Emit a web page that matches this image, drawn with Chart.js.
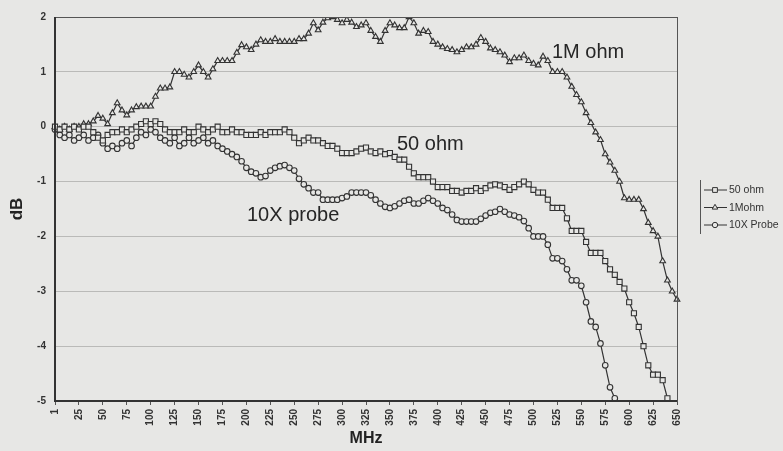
<!DOCTYPE html>
<html>
<head>
<meta charset="utf-8">
<script src="https://cdn.jsdelivr.net/npm/chart.js@4.4.1/dist/chart.umd.min.js"></script>
<style>
  html, body { margin: 0; padding: 0; background: #e7e7e5; }
  #wrap { width: 783px; height: 451px; }
</style>
</head>
<body>
<div id="wrap"><canvas id="chart" width="783" height="451"></canvas></div>
<script>
// frequency points (MHz)
const freqs = [1, 5, 10, 15, 20, 25, 30, 35, 40, 45, 50, 55, 60, 65, 70, 75, 80, 85, 90, 95,
  100, 105, 110, 115, 120, 125, 130, 135, 140, 145, 150, 155, 160, 165, 170, 175, 180, 185, 190, 195,
  200, 205, 210, 215, 220, 225, 230, 235, 240, 245, 250, 255, 260, 265, 270, 275, 280, 285, 290, 295,
  300, 305, 310, 315, 320, 325, 330, 335, 340, 345, 350, 355, 360, 365, 370, 375, 380, 385, 390, 395,
  400, 405, 410, 415, 420, 425, 430, 435, 440, 445, 450, 455, 460, 465, 470, 475, 480, 485, 490, 495,
  500, 505, 510, 515, 520, 525, 530, 535, 540, 545, 550, 555, 560, 565, 570, 575, 580, 585, 590, 595,
  600, 605, 610, 615, 620, 625, 630, 635, 640, 645, 650]

// dB
const ohm50 = [0, -0.05, 0, -0.05, 0, -0.05, 0, 0, -0.1, -0.2,
  -0.25, -0.15, -0.1, -0.1, -0.05, -0.1, -0.05, 0, 0.05, 0.1,
  0.05, 0.1, 0.05, -0.05, -0.1, -0.1, -0.1, -0.05, -0.1, -0.1,
  0, -0.05, -0.1, -0.05, 0, -0.1, -0.1, -0.05, -0.1, -0.1,
  -0.15, -0.15, -0.15, -0.1, -0.15, -0.1, -0.1, -0.1, -0.05, -0.1,
  -0.2, -0.3, -0.25, -0.2, -0.25, -0.25, -0.3, -0.35, -0.35, -0.4,
  -0.48, -0.48, -0.48, -0.45, -0.4, -0.38, -0.45, -0.48, -0.45, -0.5,
  -0.48, -0.55, -0.6, -0.6, -0.73, -0.85, -0.92, -0.92, -0.92, -1.0,
  -1.1, -1.1, -1.1, -1.17, -1.17, -1.2, -1.17, -1.17, -1.12, -1.17,
  -1.12, -1.07, -1.05, -1.07, -1.1, -1.15, -1.1, -1.05, -1.0, -1.05,
  -1.15, -1.2, -1.2, -1.33, -1.48, -1.48, -1.48, -1.67, -1.9, -1.9,
  -1.9, -2.1, -2.3, -2.3, -2.3, -2.45, -2.6, -2.7, -2.83, -2.95,
  -3.2, -3.4, -3.65, -4.0, -4.35, -4.52, -4.52, -4.62, -4.95, null, null]

const mohm1 = [0, -0.05, 0, -0.05, 0, 0, 0.05, 0.05, 0.1, 0.2,
  0.15, 0.05, 0.25, 0.43, 0.3, 0.21, 0.3, 0.36, 0.37, 0.37,
  0.37, 0.55, 0.7, 0.7, 0.72, 1.0, 1.0, 0.95, 0.9, 1.0,
  1.12, 1.0, 0.9, 1.05, 1.2, 1.2, 1.2, 1.2, 1.35, 1.49,
  1.45, 1.4, 1.5, 1.58, 1.55, 1.55, 1.6, 1.55, 1.55, 1.55,
  1.55, 1.6, 1.6, 1.7, 1.89, 1.76, 1.9, 1.98, 2.0, 1.95,
  1.89, 1.95, 1.9, 1.82, 1.85, 1.89, 1.75, 1.64, 1.55, 1.75,
  1.89, 1.85, 1.8, 1.8, 2.0, 1.89, 1.7, 1.75, 1.73, 1.55,
  1.5, 1.45, 1.42, 1.4, 1.36, 1.4, 1.45, 1.45, 1.5, 1.62,
  1.55, 1.43, 1.4, 1.36, 1.3, 1.18, 1.25, 1.25, 1.3, 1.2,
  1.15, 1.12, 1.28, 1.2, 1.0, 1.0, 1.0, 0.9, 0.73, 0.58,
  0.45, 0.25, 0.07, -0.1, -0.24, -0.5, -0.65, -0.8, -1.0, -1.3,
  -1.33, -1.33, -1.33, -1.5, -1.75, -1.9, -2.0, -2.45, -2.8, -3.0, -3.15]

const probe10x = [-0.05, -0.15, -0.2, -0.15, -0.25, -0.2, -0.15, -0.25, -0.2, -0.15,
  -0.3, -0.4, -0.35, -0.4, -0.3, -0.25, -0.35, -0.2, -0.1, -0.15,
  -0.05, -0.1, -0.2, -0.25, -0.3, -0.2, -0.35, -0.3, -0.2, -0.3,
  -0.25, -0.2, -0.3, -0.25, -0.35, -0.4, -0.45, -0.5, -0.55, -0.63,
  -0.75, -0.82, -0.85, -0.92, -0.9, -0.8, -0.75, -0.72, -0.7, -0.75,
  -0.8, -0.95, -1.05, -1.12, -1.2, -1.2, -1.33, -1.33, -1.33, -1.33,
  -1.3, -1.27, -1.2, -1.2, -1.2, -1.2, -1.25, -1.33, -1.4, -1.46,
  -1.48, -1.45, -1.4, -1.35, -1.33, -1.4, -1.4, -1.35, -1.3, -1.35,
  -1.4, -1.48, -1.52, -1.6, -1.7, -1.73, -1.73, -1.73, -1.73, -1.68,
  -1.62, -1.57, -1.55, -1.5, -1.55, -1.6, -1.62, -1.65, -1.72, -1.85,
  -2.0, -2.0, -2.0, -2.15, -2.4, -2.4, -2.45, -2.6, -2.8, -2.8,
  -2.9, -3.2, -3.55, -3.65, -3.95, -4.35, -4.75, -4.95, null, null,
  null, null, null, null, null, null, null, null, null, null, null]

const yTicks = [2, 1, 0, -1, -2, -3, -4, -5]

const ink = "#333333"
const paper = "#e7e7e5"

// text labels drawn on the plot
const curveLabels = [
  { text: "1M ohm", x: 552, y: 58 },
  { text: "50 ohm", x: 397, y: 150 },
  { text: "10X probe", x: 247, y: 221 },
]

const legendItems = [
  { text: "50 ohm", style: "rect", r: 3.4 },
  { text: "1Mohm", style: "triangle", r: 3.2 },
  { text: "10X Probe", style: "circle", r: 2.7 },
]

const framePlugin = {
  id: "frame",
  beforeDraw(chart) {
    const ctx = chart.ctx
    ctx.save()
    ctx.fillStyle = paper
    ctx.fillRect(0, 0, chart.width, chart.height)
    ctx.restore()
  },
  afterDatasetsDraw(chart) {
    const { ctx, chartArea: a } = chart
    ctx.save()
    ctx.strokeStyle = "#555"
    ctx.lineWidth = 1
    ctx.strokeRect(a.left + 0.5, a.top + 0.5, a.right - a.left, a.bottom - a.top)
    ctx.strokeStyle = ink
    ctx.lineWidth = 2
    ctx.beginPath()
    ctx.moveTo(a.left, a.top)
    ctx.lineTo(a.left, a.bottom)
    ctx.lineTo(a.right, a.bottom)
    ctx.stroke()

    ctx.fillStyle = "#262626"
    ctx.font = "20px 'Liberation Sans', Arial, sans-serif"
    ctx.textBaseline = "alphabetic"
    curveLabels.forEach(function (l) {
      ctx.fillText(l.text, l.x, l.y)
    })

    // legend
    ctx.strokeStyle = "#555"
    ctx.lineWidth = 1
    ctx.beginPath()
    ctx.moveTo(700.5, 180)
    ctx.lineTo(700.5, 234)
    ctx.stroke()
    ctx.font = "10.5px 'Liberation Sans', Arial, sans-serif"
    ctx.textBaseline = "middle"
    legendItems.forEach(function (item, i) {
      const y = 190 + i * 17.5
      ctx.strokeStyle = ink
      ctx.beginPath()
      ctx.moveTo(704, y)
      ctx.lineTo(727, y)
      ctx.stroke()
      ctx.fillStyle = paper
      Chart.helpers.drawPoint(ctx, { pointStyle: item.style, radius: item.r, borderWidth: 1 }, 715, y)
      ctx.fillStyle = "#333"
      ctx.fillText(item.text, 729, y + 0.5)
    })
    ctx.restore()
  },
}

function series(label, data, style, r) {
  return {
    label: label,
    data: data,
    borderColor: ink,
    borderWidth: 1.2,
    pointStyle: style,
    pointRadius: r,
    pointBorderColor: ink,
    pointBackgroundColor: paper,
    pointBorderWidth: 1.1,
    tension: 0,
    spanGaps: false,
  }
}

const canvasRef = document.getElementById("chart")
const myChart = new Chart(canvasRef, {
  type: "line",
  data: {
    labels: freqs,
    datasets: [
      series("50 ohm", ohm50, "rect", 3.6),
      series("1Mohm", mohm1, "triangle", 3.3),
      series("10X Probe", probe10x, "circle", 2.8),
    ],
  },
  options: {
    responsive: false,
    animation: false,
    layout: { padding: { top: 17, right: 106, left: 0, bottom: 0 } },
    plugins: {
      legend: { display: false },
      tooltip: { enabled: false },
    },
    scales: {
      x: {
        type: "category",
        offset: false,
        afterFit(scale) { scale.height = 50 },
        grid: { display: true, drawOnChartArea: false, tickLength: 4, color: "#555" },
        border: { display: false },
        ticks: {
          autoSkip: false,
          minRotation: 90,
          maxRotation: 90,
          padding: 4,
          color: "#333",
          font: { size: 10, weight: "bold", family: "'Liberation Sans', Arial" },
          callback(value, index) {
            const f = freqs[index]
            return (f === 1 || f % 25 === 0) ? String(f) : null
          },
        },
        title: {
          display: true,
          text: "MHz",
          color: "#222",
          font: { size: 16, weight: "bold", family: "'Liberation Sans', Arial" },
          padding: { top: 0, bottom: 3 },
        },
      },
      y: {
        min: -5,
        max: 2,
        afterFit(scale) { scale.width = 55 },
        afterBuildTicks(scale) {
          scale.ticks = yTicks.map(function (v) { return { value: v } })
        },
        grid: { color: "rgba(90,90,90,0.32)", tickLength: 4, drawTicks: false },
        border: { display: false },
        ticks: {
          padding: 9,
          color: "#333",
          font: { size: 10, weight: "bold", family: "'Liberation Sans', Arial" },
        },
        title: {
          display: true,
          text: "dB",
          color: "#222",
          font: { size: 17, weight: "bold", family: "'Liberation Sans', Arial" },
          padding: { top: 7, bottom: 0 },
        },
      },
    },
  },
  plugins: [framePlugin],
})
</script>
</body>
</html>
